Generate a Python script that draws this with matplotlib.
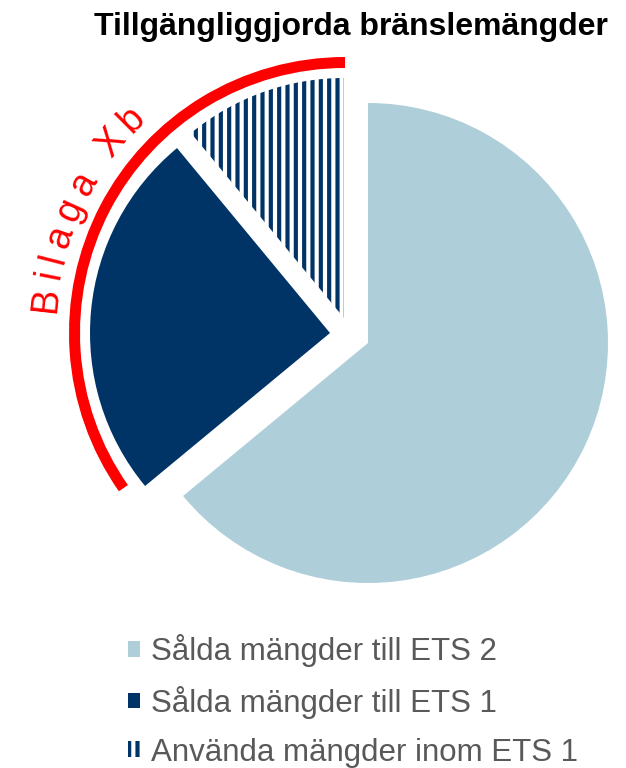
import matplotlib
matplotlib.use("Agg")
import matplotlib.pyplot as plt
import numpy as np
from matplotlib.patches import Wedge
from matplotlib.font_manager import FontProperties, findfont, get_font

title = "Tillgängliggjorda bränslemängder"
labels = ["Sålda mängder till ETS 2", "Sålda mängder till ETS 1",
          "Använda mängder inom ETS 1"]
shares = [64, 25, 11]
bracket_label = "Bilaga Xb"

W, H = 626, 768
LIGHT = "#AECEDA"
NAVY = "#003366"
RED = "#FF0000"
GREY = "#595959"

plt.rcParams["font.family"] = ["Liberation Sans", "DejaVu Sans"]
plt.rcParams["hatch.linewidth"] = 3.0


def py(y):
    # pixel rows are counted from the top of the picture
    return H - y


fig = plt.figure(figsize=(W / 100, H / 100), dpi=100)
ax = fig.add_axes([0, 0, 1, 1])

pie_c = (368, py(343))
wedges, _ = ax.pie(shares, colors=[LIGHT, NAVY, "white"], startangle=90,
                   counterclock=False, radius=240, center=pie_c,
                   wedgeprops=dict(linewidth=0))
wedges[2].set_hatch("||")
wedges[2].set_edgecolor(NAVY)
wedges[2].set_linewidth(0)
# the two ETS 1 slices are pulled out together, Excel style
for w, (dx, dy) in zip(wedges, [(0, 0), (-38, 10), (-24, 25)]):
    w.set_center((pie_c[0] + dx, pie_c[1] + dy))

# red bracket round the ETS 1 slices
arc_c = (345, py(333))
ax.add_patch(Wedge(arc_c, 276, 90, 215, width=11, facecolor=RED, linewidth=0))

# curved, letter-spaced label along the bracket
fs = 27
fp = FontProperties(family="Liberation Sans", size=fs)
font = get_font(findfont(fp))
font.set_size(fs, 100)
adv = np.array([font.load_char(ord(c)).linearHoriAdvance / 65536
                for c in bracket_label])
steps = adv + 8.2
mid = np.cumsum(steps) - steps + adv / 2
theta = np.radians(276.5) + (mid - mid[0]) / 302
for ch, th in zip(bracket_label, theta):
    if ch == " ":
        continue
    ax.text(arc_c[0] + 291 * np.sin(th), arc_c[1] + 291 * np.cos(th), ch,
            rotation=-np.degrees(th), rotation_mode="anchor", ha="center",
            va="baseline", fontproperties=fp, color=RED)

ax.text(351, py(35), title, ha="center", va="baseline", fontsize=23,
        fontweight="bold", color="black")

ax.legend(wedges, labels, loc="upper left", bbox_to_anchor=(128 / W, 1 - 634 / H),
          frameon=False, fontsize=22.5, labelcolor=GREY, handlelength=0.38,
          handleheight=0.4, handletextpad=0.35, labelspacing=0.6,
          borderpad=0, borderaxespad=0)

ax.set_xlim(0, W)
ax.set_ylim(0, H)
ax.set_aspect("auto")
ax.axis("off")

fig.savefig("out.png", dpi=100)
